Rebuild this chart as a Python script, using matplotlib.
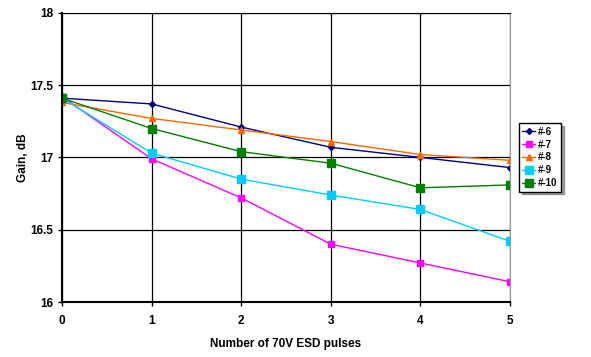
import matplotlib

matplotlib.use("Agg")
import matplotlib.pyplot as plt

pulses = [0, 1, 2, 3, 4, 5]
gain_6 = [17.41, 17.37, 17.21, 17.07, 17.00, 16.93]
gain_7 = [17.42, 16.99, 16.72, 16.40, 16.27, 16.14]
gain_8 = [17.38, 17.27, 17.19, 17.11, 17.02, 16.98]
gain_9 = [17.41, 17.03, 16.85, 16.74, 16.64, 16.42]
gain_10 = [17.41, 17.20, 17.04, 16.96, 16.79, 16.81]

plt.rcParams["font.family"] = ["Liberation Sans", "DejaVu Sans"]
plt.rcParams["font.weight"] = "bold"

fig = plt.figure(figsize=(5.91, 3.57), dpi=100)
ax = fig.add_axes([0.105, 0.154, 0.758, 0.810])

ax.plot(pulses, gain_6, "-D", color="#000080", ms=3, lw=1, label="#-6")
ax.plot(pulses, gain_7, "-s", color="#FF00FF", ms=4, lw=1, label="#-7")
ax.plot(pulses, gain_8, "-^", color="#FF6600", ms=4.5, lw=1, label="#-8")
ax.plot(pulses, gain_9, "-s", color="#00CCFF", ms=6, lw=1, label="#-9")
ax.plot(pulses, gain_10, "-s", color="#008000", ms=6, lw=1, label="#-10")

ax.set_xlim(0, 5)
ax.set_ylim(16, 18)
ax.set_xticks(pulses)
ax.set_yticks([16, 16.5, 17, 17.5, 18])
ax.set_yticklabels(["16", "16.5", "17", "17.5", "18"])
ax.grid(True, color="black", lw=0.9)
ax.set_axisbelow(True)
ax.tick_params(labelsize=8.5, length=3, width=1)
ax.tick_params(axis="x", pad=6)
ax.spines["top"].set_color("black")
ax.spines["right"].set_color("#999999")
for s in ("left", "bottom"):
    ax.spines[s].set_linewidth(1.5)

ax.set_xlabel("Number of 70V ESD pulses", fontsize=8.5, fontweight="bold", labelpad=8)
ax.set_ylabel("Gain, dB", fontsize=8.5, fontweight="bold", labelpad=1)

leg = ax.legend(loc="center left", bbox_to_anchor=(1.02, 0.5), fontsize=7,
                frameon=True, fancybox=False, shadow=True, handlelength=1.3,
                handletextpad=0.3, borderpad=0.35, labelspacing=0.3,
                borderaxespad=0)
leg.get_frame().set_edgecolor("black")
leg.get_frame().set_linewidth(1)

fig.savefig("out.png", dpi=100)
